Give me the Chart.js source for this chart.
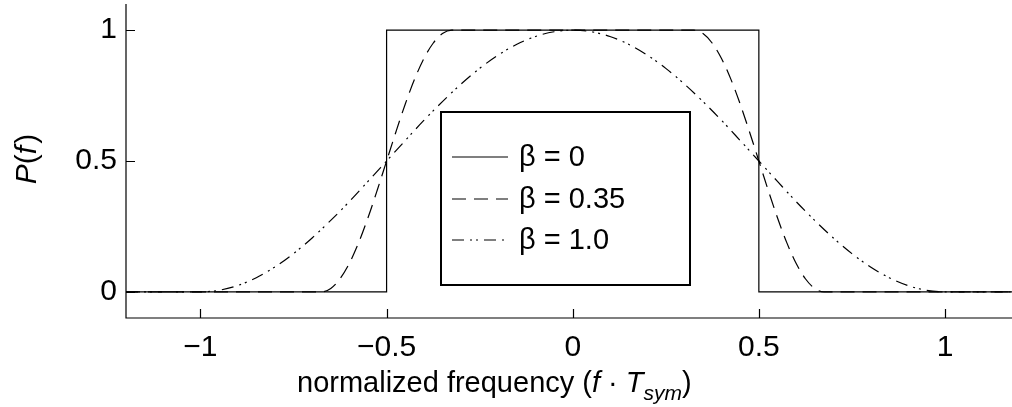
<!DOCTYPE html>
<html>
<head>
<meta charset="utf-8">
<script src="https://cdn.jsdelivr.net/npm/chart.js@4/dist/chart.umd.min.js"></script>
<style>
  html, body { margin: 0; padding: 0; background: #fff; }
  #wrap { width: 1012px; height: 407px; }
</style>
</head>
<body>
<div id="wrap"><canvas id="spectrumChart"></canvas></div>
<script>
// values
const xTicks = [-1, -0.5, 0, 0.5, 1];
const yTicks = [0, 0.5, 1];

const beta0X = [-1.2, -0.5, -0.5, 0.5, 0.5, 1.2];
const beta0Y = [0, 0, 1, 1, 0, 0];

const beta035X = [-1.2, -0.675, -0.65, -0.625, -0.6, -0.575, -0.55, -0.525, -0.5, -0.475, -0.45, -0.425, -0.4, -0.375, -0.35, -0.325,
                  0.325, 0.35, 0.375, 0.4, 0.425, 0.45, 0.475, 0.5, 0.525, 0.55, 0.575, 0.6, 0.625, 0.65, 0.675, 1.2];
const beta035Y = [0, 0, 0.013, 0.05, 0.109, 0.188, 0.283, 0.389, 0.5, 0.611, 0.717, 0.812, 0.891, 0.95, 0.987, 1,
                  1, 0.987, 0.95, 0.891, 0.812, 0.717, 0.611, 0.5, 0.389, 0.283, 0.188, 0.109, 0.05, 0.013, 0, 0];

const beta1X = [-1.2, -1, -0.95, -0.9, -0.85, -0.8, -0.75, -0.7, -0.65, -0.6, -0.55, -0.5, -0.45, -0.4, -0.35, -0.3, -0.25, -0.2, -0.15, -0.1, -0.05,
                0, 0.05, 0.1, 0.15, 0.2, 0.25, 0.3, 0.35, 0.4, 0.45, 0.5, 0.55, 0.6, 0.65, 0.7, 0.75, 0.8, 0.85, 0.9, 0.95, 1, 1.2];
const beta1Y = [0, 0, 0.006, 0.024, 0.054, 0.095, 0.146, 0.206, 0.273, 0.345, 0.422, 0.5, 0.578, 0.655, 0.727, 0.794, 0.854, 0.905, 0.946, 0.976, 0.994,
                1, 0.994, 0.976, 0.946, 0.905, 0.854, 0.794, 0.727, 0.655, 0.578, 0.5, 0.422, 0.345, 0.273, 0.206, 0.146, 0.095, 0.054, 0.024, 0.006, 0, 0];

const seriesLabels = ['\u03b2 = 0', '\u03b2 = 0.35', '\u03b2 = 1.0'];

const FONT = "'Liberation Sans', Arial, Helvetica, sans-serif";

function toPoints(xs, ys) {
    return xs.map((x, i) => ({ x: x, y: ys[i] }));
}

// inward tick marks, the boxed legend and the axis titles with italics
const matlabLook = {
    id: 'matlabLook',
    afterDraw(chart) {
        const ctx = chart.ctx;
        const xs = chart.scales.x;
        const ys = chart.scales.y;
        const area = chart.chartArea;
        ctx.save();
        ctx.strokeStyle = '#000';
        ctx.lineWidth = 1.2;
        ctx.setLineDash([]);
        // axis lines
        ctx.beginPath();
        ctx.moveTo(area.left, area.top);
        ctx.lineTo(area.left, area.bottom);
        ctx.lineTo(chart.width, area.bottom);
        ctx.stroke();
        // ticks
        ctx.beginPath();
        xTicks.forEach(v => {
            const px = Math.round(xs.getPixelForValue(v)) + 0.5;
            ctx.moveTo(px, area.bottom);
            ctx.lineTo(px, area.bottom - 9);
        });
        yTicks.forEach(v => {
            const py = Math.round(ys.getPixelForValue(v)) + 0.5;
            ctx.moveTo(area.left, py);
            ctx.lineTo(area.left + 9, py);
        });
        ctx.stroke();

        // legend box
        const bx = 441, by = 112, bw = 249, bh = 173;
        ctx.fillStyle = '#fff';
        ctx.fillRect(bx, by, bw, bh);
        ctx.lineWidth = 2;
        ctx.strokeRect(bx, by, bw, bh);
        ctx.font = '29px ' + FONT;
        ctx.textBaseline = 'middle';
        ctx.textAlign = 'left';
        ctx.fillStyle = '#000';
        const rows = [157, 199, 240];
        chart.data.datasets.forEach((ds, i) => {
            ctx.beginPath();
            ctx.lineWidth = 1.2;
            ctx.setLineDash(ds.borderDash || []);
            ctx.moveTo(452, rows[i]);
            ctx.lineTo(508, rows[i]);
            ctx.stroke();
            ctx.setLineDash([]);
            ctx.fillText(ds.label, 519, rows[i] + 1);
        });

        // x axis title
        ctx.textBaseline = 'alphabetic';
        let x = 297;
        const base = 392;
        const parts = [
            ['normalized frequency (', 'normal 29px'],
            ['f', 'italic 29px'],
            [' \u00b7 ', 'normal 29px'],
            ['T', 'italic 29px'],
            ['sym', 'italic 21px', 8],
            [')', 'normal 29px']
        ];
        parts.forEach(p => {
            ctx.font = p[1] + ' ' + FONT;
            ctx.fillText(p[0], x, base + (p[2] || 0));
            x += ctx.measureText(p[0]).width;
        });

        // y axis title, rotated
        ctx.translate(36, 160);
        ctx.rotate(-Math.PI / 2);
        const yParts = [['P', 'italic 30px'], ['(', 'normal 30px'], ['f', 'italic 30px'], [')', 'normal 30px']];
        let total = 0;
        yParts.forEach(p => { ctx.font = p[1] + ' ' + FONT; total += ctx.measureText(p[0]).width; });
        let yx = -total / 2;
        yParts.forEach(p => {
            ctx.font = p[1] + ' ' + FONT;
            ctx.fillText(p[0], yx, 0);
            yx += ctx.measureText(p[0]).width + (p[0] === 'f' ? 2 : 0);
        });
        ctx.restore();
    }
};

const ctx = document.getElementById('spectrumChart').getContext('2d');
const spectrumChart = new Chart(ctx, {
    type: 'scatter',
    data: {
        datasets: [
            {
                label: seriesLabels[0],
                data: toPoints(beta0X, beta0Y),
                showLine: true,
                borderColor: '#000',
                borderWidth: 1.2,
                pointRadius: 0,
                borderDash: []
            },
            {
                label: seriesLabels[1],
                data: toPoints(beta035X, beta035Y),
                showLine: true,
                borderColor: '#000',
                borderWidth: 1.2,
                pointRadius: 0,
                cubicInterpolationMode: 'monotone',
                borderDash: [14, 8]
            },
            {
                label: seriesLabels[2],
                data: toPoints(beta1X, beta1Y),
                showLine: true,
                borderColor: '#000',
                borderWidth: 1.2,
                pointRadius: 0,
                cubicInterpolationMode: 'monotone',
                borderDash: [12, 6, 2, 4, 2, 6]
            }
        ]
    },
    options: {
        responsive: true,
        maintainAspectRatio: false,
        animation: false,
        layout: { padding: { top: 4, right: 0, bottom: 0, left: 0 } },
        plugins: {
            legend: { display: false },
            tooltip: { enabled: false }
        },
        scales: {
            x: {
                type: 'linear',
                min: -1.2,
                max: 1.18,
                border: { display: false },
                grid: { display: false, drawTicks: false },
                afterBuildTicks: scale => { scale.ticks = xTicks.map(v => ({ value: v })); },
                afterFit: scale => {
                    scale.height = 89;
                    scale.paddingLeft = 0;
                    scale.paddingRight = 0;
                },
                ticks: {
                    color: '#000',
                    padding: 12,
                    font: { family: FONT, size: 30 },
                    callback: v => String(v).replace('-', '\u2212')
                }
            },
            y: {
                type: 'linear',
                min: -0.1,
                max: 1.1,
                border: { display: false },
                grid: { display: false, drawTicks: false },
                afterBuildTicks: scale => { scale.ticks = yTicks.map(v => ({ value: v })); },
                afterFit: scale => {
                    scale.width = 126;
                    scale.paddingTop = 0;
                    scale.paddingBottom = 0;
                },
                ticks: {
                    color: '#000',
                    padding: 9,
                    font: { family: FONT, size: 30 },
                    callback: v => String(v)
                }
            }
        }
    },
    plugins: [matlabLook]
});
</script>
</body>
</html>
